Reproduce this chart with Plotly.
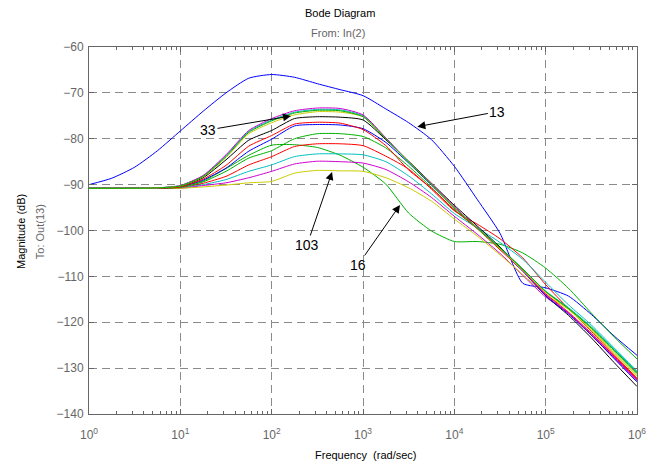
import plotly.graph_objects as go

# Frequencies (rad/sec), quarter-decade spacing from 1e0 to 1e6
freq = [1.0, 1.778, 3.162, 5.623, 10.0, 17.78, 31.62, 56.23, 100.0, 177.8, 316.2, 562.3,
        1000.0, 1778.0, 3162.0, 5623.0, 10000.0, 17780.0, 31620.0, 56230.0,
        100000.0, 177800.0, 316200.0, 562300.0, 1000000.0]

# Magnitudes (dB)
mag_13_blue = [-90.0, -88.6, -86.2, -82.6, -78.3, -74.0, -70.0, -66.8, -66.0, -66.6, -68.0, -69.3,
               -70.6, -73.5, -76.5, -80.2, -86.0, -93.2, -100.6, -111.5, -112.5, -114.3, -118.3, -123.0, -127.2]
mag_16_green = [-90.8, -90.8, -90.8, -90.7, -90.4, -89.2, -86.5, -83.6, -81.4, -81.3, -81.9, -83.6,
                -86.2, -89.9, -96.2, -100.1, -102.4, -102.4, -103.0, -104.9, -108.2, -112.6, -118.0, -123.2, -128.0]
mag_red_low = [-90.8, -90.8, -90.8, -90.8, -90.7, -89.7, -88.2, -85.7, -83.9, -81.7, -81.1, -81.1,
               -81.5, -83.8, -86.6, -91.0, -95.7, -98.6, -101.8, -106.0, -111.8, -117.0, -122.0, -127.1, -132.2]
mag_cyan_low = [-90.8, -90.8, -90.8, -90.8, -90.7, -90.0, -88.9, -87.1, -85.7, -83.9, -83.3, -83.3,
                -83.5, -85.0, -88.1, -92.0, -96.3, -99.4, -102.6, -106.3, -111.3, -116.2, -120.6, -125.6, -130.6]
mag_magenta_low = [-90.8, -90.8, -90.8, -90.8, -90.8, -90.2, -89.6, -88.5, -87.1, -85.5, -84.9, -85.0,
                   -85.3, -86.7, -89.4, -92.8, -96.9, -100.8, -105.0, -109.8, -114.5, -118.0, -122.8, -127.9, -132.9]
mag_103_yellow = [-90.8, -90.8, -90.8, -90.8, -90.8, -90.5, -90.1, -89.6, -89.3, -87.5, -86.9, -87.0,
                  -87.1, -88.5, -90.7, -93.6, -97.5, -101.2, -105.3, -109.6, -114.0, -117.2, -121.8, -126.8, -131.8]
mag_black = [-90.8, -90.8, -90.8, -90.7, -90.4, -88.5, -84.6, -80.3, -78.2, -75.6, -75.2, -75.3,
             -75.9, -80.2, -84.9, -89.7, -94.5, -99.0, -103.6, -108.6, -114.2, -118.5, -123.4, -128.8, -134.0]
mag_blue = [-90.8, -90.8, -90.8, -90.8, -90.5, -89.0, -86.4, -82.7, -80.1, -77.2, -76.9, -77.0,
            -77.8, -80.8, -85.3, -90.1, -95.0, -99.5, -104.0, -108.9, -114.2, -118.2, -122.8, -127.9, -133.0]
mag_green = [-90.8, -90.8, -90.8, -90.8, -90.6, -89.4, -87.1, -84.2, -82.6, -80.0, -78.9, -78.9,
             -79.5, -82.0, -86.0, -90.6, -95.5, -99.4, -103.8, -108.5, -113.3, -117.0, -121.3, -126.2, -131.2]
mag_red_up = [-90.8, -90.8, -90.8, -90.8, -90.5, -88.8, -85.8, -81.6, -79.3, -76.8, -76.4, -76.6,
              -78.0, -81.5, -86.8, -90.8, -95.5, -99.6, -104.2, -108.8, -113.8, -117.8, -122.4, -127.4, -132.4]
mag_cyan_top = [-90.8, -90.8, -90.8, -90.7, -90.2, -88.1, -83.7, -78.4, -75.9, -74.2, -73.6, -73.7,
                -75.0, -79.9, -85.1, -89.9, -95.0, -99.4, -103.8, -108.4, -113.2, -116.8, -121.0, -125.9, -130.8]
mag_magenta_top = [-90.8, -90.8, -90.8, -90.7, -90.2, -88.0, -83.5, -78.2, -75.6, -73.9, -73.3, -73.4,
                   -74.8, -79.8, -85.0, -89.8, -94.8, -99.4, -104.0, -108.8, -114.0, -118.0, -122.6, -127.6, -132.6]
mag_yellow_top = [-90.8, -90.8, -90.8, -90.7, -90.3, -88.3, -84.1, -78.9, -76.5, -74.8, -74.1, -74.2,
                  -75.2, -80.0, -85.0, -89.9, -95.0, -99.5, -104.0, -108.7, -113.5, -117.2, -121.6, -126.6, -131.6]
mag_green_top = [-90.8, -90.8, -90.8, -90.7, -90.3, -88.2, -83.9, -78.6, -76.1, -74.4, -73.8, -73.9,
                 -75.2, -80.0, -85.1, -90.0, -95.1, -99.5, -103.8, -108.4, -113.3, -117.0, -121.2, -126.1, -131.0]

series = [
    (mag_13_blue, "#0000FF"),
    (mag_16_green, "#00B000"),
    (mag_red_low, "#FF0000"),
    (mag_cyan_low, "#00C0C0"),
    (mag_magenta_low, "#D000D0"),
    (mag_103_yellow, "#CCCC00"),
    (mag_black, "#000000"),
    (mag_blue, "#0000FF"),
    (mag_green, "#00B000"),
    (mag_red_up, "#FF0000"),
    (mag_cyan_top, "#00C0C0"),
    (mag_magenta_top, "#D000D0"),
    (mag_yellow_top, "#CCCC00"),
    (mag_green_top, "#00B000"),
]

xtick_vals = [1, 10, 100, 1000, 10000, 100000, 1000000]
xtick_text = ["10<sup>0</sup>", "10<sup>1</sup>", "10<sup>2</sup>", "10<sup>3</sup>",
              "10<sup>4</sup>", "10<sup>5</sup>", "10<sup>6</sup>"]
ytick_vals = [-140, -130, -120, -110, -100, -90, -80, -70, -60]

fig = go.Figure()
for vals, col in series:
    fig.add_trace(go.Scatter(x=freq, y=vals, mode="lines", line=dict(color=col, width=1, shape="spline", smoothing=0.6),
                             showlegend=False, hoverinfo="skip"))

font = "Liberation Sans, Arial, sans-serif"
gray = "#666666"
gridc = "#8a8a8a"

fig.update_xaxes(type="log", range=[0, 6], tickvals=xtick_vals, ticktext=xtick_text,
                 showgrid=True, gridcolor=gridc, griddash="8px,5px", gridwidth=1,
                 showline=True, linecolor=gray, linewidth=1, mirror="ticks",
                 ticks="inside", ticklen=5, tickcolor=gray, ticklabelstandoff=10,
                 minor=dict(ticks="inside", ticklen=3, tickcolor=gray, dtick="D1", showgrid=False),
                 tickfont=dict(family=font, size=12, color=gray), zeroline=False)
fig.update_yaxes(range=[-140, -60], tickvals=ytick_vals,
                 showgrid=True, gridcolor=gridc, griddash="8px,5px", gridwidth=1,
                 showline=True, linecolor=gray, linewidth=1, mirror="ticks",
                 ticks="inside", ticklen=5, tickcolor=gray, ticklabelstandoff=2,
                 tickfont=dict(family=font, size=12, color=gray), zeroline=False)

anns = [
    dict(text="Bode Diagram", x=0.458, y=1.093, font=dict(size=11, color="#000000")),
    dict(text="From: In(2)", x=0.455, y=1.038, font=dict(size=11, color=gray)),
    dict(text="Magnitude (dB)", x=-0.124, y=0.496, textangle=-90, font=dict(size=11, color="#000000")),
    dict(text="To: Out(13)", x=-0.089, y=0.496, textangle=-90, font=dict(size=11, color=gray)),
    dict(text="Frequency  (rad/sec)", x=0.504, y=-0.112, font=dict(size=11, color="#000000")),
]
for a in anns:
    fig.add_annotation(xref="paper", yref="paper", showarrow=False, xanchor="center", yanchor="middle",
                       text=a["text"], x=a["x"], y=a["y"], textangle=a.get("textangle", 0),
                       font=dict(family=font, size=a["font"]["size"], color=a["font"]["color"]))

# Curve labels with arrows: (label, tip log10 freq, tip dB, text offset px)
labels = [("13", 3.595, -77.37, 80, -15), ("33", 2.212, -75.04, -83, 14),
          ("103", 2.661, -87.25, -25, 73), ("16", 3.405, -94.44, -42, 60)]
for txt, lx, ly, axp, ayp in labels:
    fig.add_annotation(x=lx, y=ly, xref="x", yref="y", text=txt, showarrow=True,
                       ax=axp, ay=ayp, arrowhead=2, arrowsize=1.6, arrowwidth=1, arrowcolor="#000000",
                       font=dict(family=font, size=14, color="#000000"))

# page body has an 8px margin; size the figure so the plot area lands where the reference has it
fig.update_layout(width=651, height=456, margin=dict(l=81, r=22, t=39, b=50),
                  paper_bgcolor="white", plot_bgcolor="white", showlegend=False)

fig.write_html("out.html")
